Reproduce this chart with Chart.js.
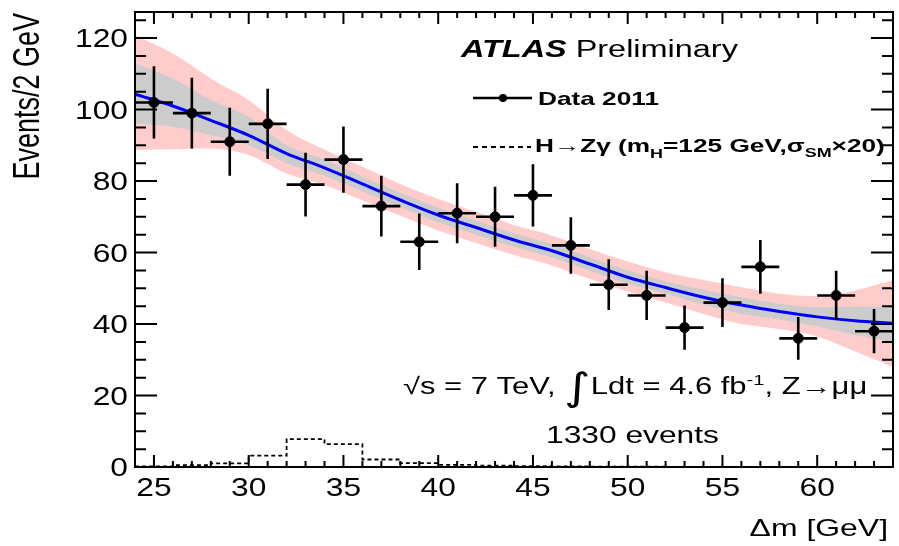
<!DOCTYPE html>
<html>
<head>
<meta charset="utf-8">
<script src="https://cdn.jsdelivr.net/npm/chart.js@4.4.1/dist/chart.umd.min.js"></script>
<style>
  body { margin: 0; background: #fff; }
  #wrap { width: 899px; height: 546px; }
</style>
</head>
<body>
<div id="wrap"><canvas id="dm" width="899" height="546"></canvas></div>
<script>
// data (2 GeV bins)
var binCenters = [25, 27, 29, 31, 33, 35, 37, 39, 41, 43, 45, 47, 49, 51, 53, 55, 57, 59, 61, 63];
var counts = [102, 99, 91, 96, 79, 86, 73, 63, 71, 70, 76, 62, 51, 48, 39, 46, 56, 36, 48, 38];
var countErr = [10.1, 9.9, 9.5, 9.8, 8.9, 9.3, 8.5, 7.9, 8.4, 8.4, 8.7, 7.9, 7.1, 6.9, 6.2, 6.8, 7.5, 6.0, 6.9, 6.2];

// background fit and its 1 sigma / 2 sigma bands
var fitX = [24, 26, 28, 30, 32, 34, 36, 38, 40, 42, 44, 46, 48, 50, 52, 54, 56, 58, 60, 62, 64];
var fitY = [104.3, 101.0, 97.0, 92.8, 87.7, 83.7, 79.2, 74.7, 70.5, 67.0, 63.5, 60.5, 56.8, 53.1, 50.2, 47.5, 45.3, 43.5, 42.0, 40.9, 40.2];
var band1Lo = [96.1, 95.2, 92.9, 90.0, 85.0, 81.5, 77.1, 72.7, 68.5, 65.0, 61.6, 58.6, 54.9, 51.3, 48.5, 45.4, 42.9, 41.3, 39.4, 36.9, 35.0];
var band1Hi = [112.9, 108.7, 102.7, 98.0, 90.0, 86.0, 81.3, 76.7, 72.5, 69.0, 65.4, 62.4, 58.7, 55.0, 52.0, 49.6, 47.5, 45.7, 44.7, 44.8, 45.0];
var band2Lo = [88.7, 88.9, 89.1, 87.3, 82.1, 78.9, 74.6, 70.3, 66.2, 62.7, 59.3, 56.4, 52.6, 49.1, 46.0, 42.8, 40.0, 38.6, 36.5, 32.3, 28.0];
var band2Hi = [120.8, 115.7, 108.7, 102.7, 94.3, 88.8, 84.0, 79.2, 75.0, 71.4, 67.7, 64.8, 61.0, 57.5, 54.5, 52.3, 50.3, 48.5, 47.8, 49.4, 52.3];

// H -> Z gamma signal x20, bin low edges
var sigEdges = [24, 26, 28, 30, 32, 34, 36, 38, 40, 42, 44, 46, 48, 50, 52, 54, 56, 58, 60, 62, 64];
var sigVals = [0.2, 0.5, 1.0, 3.2, 7.8, 6.4, 2.1, 1.1, 0.6, 0.4, 0.25, 0.15, 0.1, 0.1, 0.05, 0.05, 0.05, 0.05, 0.05, 0.05];

var xTicks = [25, 30, 35, 40, 45, 50, 55, 60];
var yTicks = [0, 20, 40, 60, 80, 100, 120];

var FONT = '"Liberation Sans", Arial, Helvetica, sans-serif';
var SX = 1.38; // glyphs in the original are wide

function pts(xs, ys) {
  var out = [];
  for (var i = 0; i < xs.length; i++) out.push({ x: xs[i], y: ys[i] });
  return out;
}

function wideText(ctx, str, x, y, font, align, sx) {
  ctx.save();
  ctx.translate(x, y);
  ctx.scale(sx, 1);
  ctx.font = font;
  ctx.textAlign = align;
  ctx.textBaseline = 'alphabetic';
  ctx.fillText(str, 0, 0);
  ctx.restore();
}

// left aligned run of pieces with different fonts / offsets
function richText(ctx, parts, x, y, sx) {
  var cx = x;
  parts.forEach(function (p) {
    ctx.save();
    ctx.font = p.font;
    var w = ctx.measureText(p.t).width * sx;
    ctx.translate(cx, y + (p.dy || 0));
    ctx.scale(sx, 1);
    ctx.textAlign = 'left';
    ctx.fillText(p.t, 0, 0);
    ctx.restore();
    cx += w;
  });
}

var sigData = pts(sigEdges, sigVals.concat([sigVals[sigVals.length - 1]]));

var atlasPlot = {
  id: 'atlasPlot',
  afterDatasetsDraw: function (chart) {
    var ctx = chart.ctx, x = chart.scales.x, y = chart.scales.y;
    ctx.save();
    ctx.strokeStyle = '#000';
    ctx.lineWidth = 2.6;
    for (var i = 0; i < binCenters.length; i++) {
      var px = x.getPixelForValue(binCenters[i]);
      var py = y.getPixelForValue(counts[i]);
      ctx.beginPath();
      ctx.moveTo(x.getPixelForValue(binCenters[i] - 1), py);
      ctx.lineTo(x.getPixelForValue(binCenters[i] + 1), py);
      ctx.moveTo(px, y.getPixelForValue(counts[i] - countErr[i]));
      ctx.lineTo(px, y.getPixelForValue(counts[i] + countErr[i]));
      ctx.stroke();
    }
    ctx.restore();
  },
  afterDraw: function (chart) {
    var ctx = chart.ctx, a = chart.chartArea, x = chart.scales.x, y = chart.scales.y;
    ctx.save();
    ctx.strokeStyle = '#000';
    ctx.fillStyle = '#000';
    ctx.lineWidth = 2;
    ctx.strokeRect(a.left, a.top, a.right - a.left, a.bottom - a.top);

    ctx.beginPath();
    for (var v = 24; v <= 64; v++) {
      var px = x.getPixelForValue(v);
      var len = v % 5 === 0 ? 12 : 6;
      ctx.moveTo(px, a.bottom); ctx.lineTo(px, a.bottom - len);
      ctx.moveTo(px, a.top); ctx.lineTo(px, a.top + len);
    }
    for (var w = 0; w <= 125; w += 5) {
      var py = y.getPixelForValue(w);
      var l2 = w % 20 === 0 ? 22 : 11;
      ctx.moveTo(a.left, py); ctx.lineTo(a.left + l2, py);
      ctx.moveTo(a.right, py); ctx.lineTo(a.right - l2, py);
    }
    ctx.stroke();

    var tickFont = '25px ' + FONT;
    xTicks.forEach(function (t) {
      wideText(ctx, String(t), x.getPixelForValue(t), a.bottom + 29, tickFont, 'center', 1.27);
    });
    yTicks.forEach(function (t) {
      wideText(ctx, String(t), a.left - 7, y.getPixelForValue(t) + 9, tickFont, 'right', 1.27);
    });

    // axis titles
    wideText(ctx, '\u0394m [GeV]', 888, 536, '24px ' + FONT, 'right', 1.33);
    ctx.save();
    ctx.translate(39, 13);
    ctx.scale(1.35, 1);
    ctx.rotate(-Math.PI / 2);
    ctx.font = '27px ' + FONT;
    ctx.textAlign = 'right';
    ctx.fillText('Events/2 GeV', 0, 0);
    ctx.restore();

    // ATLAS label
    richText(ctx, [
      { t: 'ATLAS', font: 'italic bold 23.5px ' + FONT },
      { t: ' Preliminary', font: '23.5px ' + FONT }
    ], 461, 57, SX);

    // legend
    ctx.lineWidth = 2.4;
    ctx.beginPath();
    ctx.moveTo(473, 98); ctx.lineTo(532, 98);
    ctx.stroke();
    ctx.beginPath();
    ctx.arc(503, 98, 4, 0, Math.PI * 2);
    ctx.fill();
    richText(ctx, [{ t: 'Data 2011', font: 'bold 19px ' + FONT }], 538, 105, SX);

    ctx.lineWidth = 1.8;
    ctx.setLineDash([5, 4]);
    ctx.beginPath();
    ctx.moveTo(473, 147); ctx.lineTo(531, 147);
    ctx.stroke();
    ctx.setLineDash([]);
    var bf = 'bold 19px ' + FONT, sf = 'bold 13px ' + FONT;
    richText(ctx, [
      { t: 'H\u2192Z\u03b3 (m', font: bf },
      { t: 'H', font: sf, dy: 6 },
      { t: '=125 GeV,', font: bf },
      { t: '\u03c3', font: bf },
      { t: 'SM', font: sf, dy: 5 },
      { t: '\u00d720)', font: bf }
    ], 535, 152, SX);

    // run info
    var rf = '23px ' + FONT;
    richText(ctx, [
      { t: '\u221as = 7 TeV, ', font: rf },
      { t: '\u222b', font: '38px "DejaVu Sans", sans-serif', dy: 6 },
      { t: 'Ldt = 4.6 fb', font: rf },
      { t: '-1', font: '15px ' + FONT, dy: -9 },
      { t: ', Z\u2192\u03bc\u03bc', font: rf }
    ], 403, 394, SX * 0.975);
    wideText(ctx, '1330 events', 546, 443, rf, 'left', SX);

    ctx.restore();
  }
};

new Chart(document.getElementById('dm'), {
  type: 'scatter',
  data: {
    datasets: [
      {
        label: 'Data 2011',
        data: pts(binCenters, counts),
        backgroundColor: '#000',
        borderColor: '#000',
        pointRadius: 5,
        order: 0
      },
      {
        label: 'signal',
        type: 'line',
        data: sigData,
        stepped: true,
        borderColor: '#000',
        borderWidth: 1.8,
        borderDash: [4, 3],
        pointRadius: 0,
        fill: false,
        order: 1
      },
      {
        label: 'fit',
        type: 'line',
        data: pts(fitX, fitY),
        borderColor: '#0000ff',
        borderWidth: 3,
        pointRadius: 0,
        cubicInterpolationMode: 'monotone',
        fill: false,
        order: 2
      },
      {
        label: 'band1Hi',
        type: 'line',
        data: pts(fitX, band1Hi),
        borderWidth: 0,
        pointRadius: 0,
        cubicInterpolationMode: 'monotone',
        backgroundColor: '#cccccc',
        fill: '+1',
        order: 3
      },
      {
        label: 'band1Lo',
        type: 'line',
        data: pts(fitX, band1Lo),
        borderWidth: 0,
        pointRadius: 0,
        cubicInterpolationMode: 'monotone',
        fill: false,
        order: 3
      },
      {
        label: 'band2Hi',
        type: 'line',
        data: pts(fitX, band2Hi),
        borderWidth: 0,
        pointRadius: 0,
        cubicInterpolationMode: 'monotone',
        backgroundColor: '#ffcccc',
        fill: '+1',
        order: 5
      },
      {
        label: 'band2Lo',
        type: 'line',
        data: pts(fitX, band2Lo),
        borderWidth: 0,
        pointRadius: 0,
        cubicInterpolationMode: 'monotone',
        fill: false,
        order: 5
      }
    ]
  },
  options: {
    responsive: false,
    animation: false,
    layout: { padding: { left: 135, right: 6, top: 12, bottom: 79 } },
    plugins: { legend: { display: false }, tooltip: { enabled: false } },
    scales: {
      x: { type: 'linear', min: 24, max: 64, display: false },
      y: { type: 'linear', min: 0, max: 127.3, display: false }
    }
  },
  plugins: [atlasPlot]
});
</script>
</body>
</html>
